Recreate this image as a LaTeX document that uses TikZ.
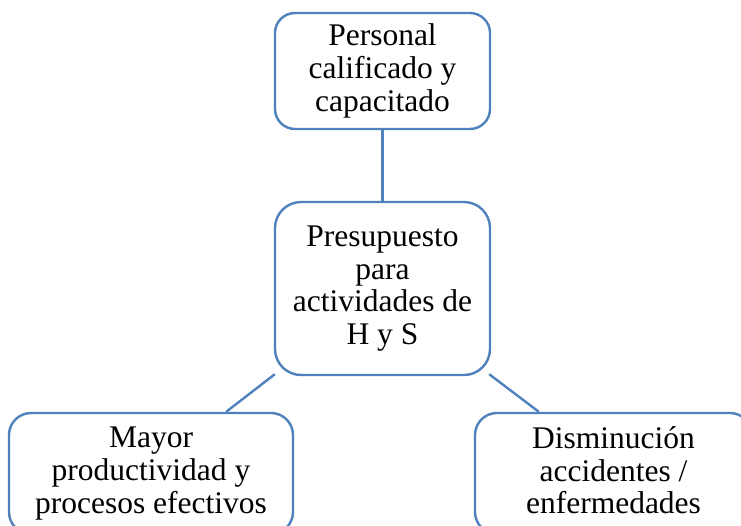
\documentclass[tikz,border=0pt]{standalone}
\usepackage{fontspec}
\setmainfont{Liberation Serif}
\usetikzlibrary{calc}
\definecolor{boxblue}{RGB}{79,129,189}
\begin{document}
\begin{tikzpicture}[x=1pt,y=1pt,
  box/.style={draw=boxblue, line width=2.4pt, fill=white, rounded corners=#1,
    align=center, inner sep=0pt, font=\fontsize{31.5}{32.8}\selectfont},
  link/.style={draw=boxblue, line width=2.4pt}]
\useasboundingbox (0,0) rectangle (741,-525);
\clip (0,0) rectangle (741,-525);
\node[box=20pt, minimum width=215pt, minimum height=116pt] (top) at (382.5,-71)
  {Personal\\calificado y\\capacitado};
\node[box=26pt, minimum width=215pt, minimum height=173pt] (mid) at (382.5,-288.5)
  {Presupuesto\\para\\actividades de\\H y S};
\node[box=22pt, minimum width=284pt, minimum height=121pt] (bl) at (151,-473.5)
  {Mayor\\productividad y\\procesos efectivos};
\node[box=22pt, minimum width=277pt, minimum height=121pt] (br) at (613.5,-473.5)
  {Disminución\\accidentes /\\enfermedades\vphantom{p}};
\draw[link] (top.south) -- (mid.north);
\draw[link] ($(mid.south west)+(1,2)$) -- ($(bl.north east)+(-68,0)$);
\draw[link] ($(mid.south east)+(-2,2)$) -- ($(br.north west)+(65,0)$);
\end{tikzpicture}
\end{document}
